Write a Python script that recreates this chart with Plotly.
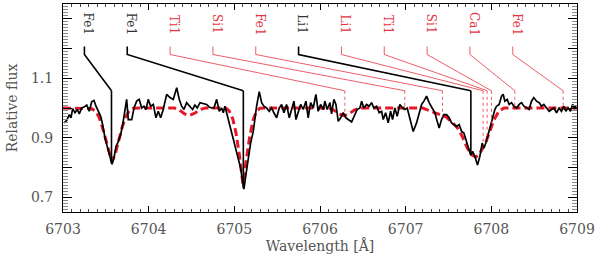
import plotly.graph_objects as go

# Observed spectrum (wavelength in Angstrom, relative flux)
obs_wl = [6703.012, 6703.043, 6703.074, 6703.093, 6703.113, 6703.140, 6703.167, 6703.190, 6703.218, 6703.245,
          6703.277, 6703.307, 6703.335, 6703.362, 6703.385, 6703.412, 6703.440, 6703.463, 6703.490, 6703.517,
          6703.548, 6703.572, 6703.595, 6703.618, 6703.645, 6703.673, 6703.697, 6703.723, 6703.743, 6703.762,
          6703.802, 6703.829, 6703.860, 6703.890, 6703.918, 6703.945, 6703.969, 6703.995, 6704.023, 6704.054,
          6704.085, 6704.112, 6704.140, 6704.170, 6704.210, 6704.249, 6704.287, 6704.327, 6704.357, 6704.385,
          6704.412, 6704.443, 6704.482, 6704.513, 6704.540, 6704.567, 6704.599, 6704.637, 6704.677, 6704.707,
          6704.735, 6704.762, 6704.794, 6704.824, 6704.852, 6704.871, 6704.890, 6704.910, 6704.941, 6704.969,
          6705.007, 6705.046, 6705.074, 6705.097, 6705.112, 6705.135, 6705.162, 6705.190, 6705.221, 6705.240,
          6705.260, 6705.291, 6705.319, 6705.345, 6705.377, 6705.407, 6705.435, 6705.462, 6705.494, 6705.524,
          6705.552, 6705.579, 6705.610, 6705.641, 6705.669, 6705.696, 6705.719, 6705.746, 6705.774, 6705.804,
          6705.836, 6705.862, 6705.890, 6705.921, 6705.952, 6705.979, 6706.007, 6706.038, 6706.057, 6706.084,
          6706.116, 6706.135, 6706.162, 6706.186, 6706.213, 6706.241, 6706.271, 6706.302, 6706.329, 6706.369,
          6706.407, 6706.434, 6706.466, 6706.486, 6706.512, 6706.544, 6706.574, 6706.602, 6706.629, 6706.661,
          6706.691, 6706.719, 6706.738, 6706.766, 6706.796, 6706.824, 6706.847, 6706.874, 6706.901, 6706.932,
          6706.964, 6706.991, 6707.018, 6707.049, 6707.088, 6707.127, 6707.158, 6707.186, 6707.213, 6707.244,
          6707.274, 6707.314, 6707.341, 6707.368, 6707.391, 6707.419, 6707.446, 6707.477, 6707.508, 6707.536,
          6707.563, 6707.594, 6707.625, 6707.653, 6707.680, 6707.703, 6707.730, 6707.758, 6707.781, 6707.808,
          6707.839, 6707.866, 6707.893, 6707.913, 6707.936, 6707.963, 6707.991, 6708.014, 6708.041, 6708.061,
          6708.091, 6708.119, 6708.138, 6708.158, 6708.185, 6708.208, 6708.236, 6708.263, 6708.294, 6708.325,
          6708.353, 6708.380, 6708.411, 6708.441, 6708.469, 6708.496, 6708.528, 6708.558, 6708.586, 6708.613,
          6708.645, 6708.675, 6708.703, 6708.730, 6708.761, 6708.791, 6708.819, 6708.846, 6708.869, 6708.896,
          6708.924, 6708.948, 6708.975, 6708.987]
obs_flux = [0.950, 0.958, 0.978, 0.967, 0.998, 0.984, 0.995, 0.980, 1.000, 1.003,
            1.010, 0.989, 1.021, 1.025, 1.006, 0.989, 0.972, 0.944, 0.899, 0.870,
            0.837, 0.811, 0.831, 0.870, 0.887, 0.910, 0.944, 0.995, 1.029, 0.961,
            0.961, 1.000, 1.023, 1.029, 1.000, 1.006, 0.995, 1.029, 1.006, 1.012,
            0.967, 0.989, 0.967, 0.995, 1.046, 1.035, 1.029, 1.068, 1.029, 1.006,
            0.995, 1.018, 1.006, 0.995, 1.010, 1.000, 1.018, 1.014, 1.012, 1.003,
            1.000, 1.000, 1.029, 0.989, 1.000, 0.984, 1.006, 0.984, 0.950, 0.921,
            0.876, 0.837, 0.797, 0.752, 0.727, 0.775, 0.837, 0.882, 0.921, 0.967,
            1.006, 1.055, 1.018, 1.006, 1.000, 0.989, 1.000, 0.984, 0.967, 1.000,
            1.012, 0.984, 1.012, 0.967, 1.000, 1.023, 0.961, 0.989, 1.012, 0.995,
            1.023, 0.967, 1.018, 1.000, 1.046, 0.989, 1.012, 0.995, 1.023, 0.995,
            1.018, 0.980, 1.029, 1.012, 0.955, 0.967, 0.984, 0.967, 0.961, 0.953,
            0.978, 0.995, 1.000, 1.023, 1.000, 1.012, 1.006, 1.018, 1.000, 1.006,
            0.984, 0.989, 0.961, 0.984, 0.950, 0.989, 0.961, 1.000, 0.972, 1.012,
            1.000, 0.995, 1.000, 0.967, 0.921, 0.950, 0.984, 1.012, 1.023, 1.040,
            1.018, 0.995, 0.984, 0.955, 0.933, 0.961, 0.978, 0.978, 0.967, 0.950,
            0.944, 0.938, 0.944, 0.921, 0.916, 0.893, 0.870, 0.842, 0.854, 0.837,
            0.808, 0.837, 0.882, 0.865, 0.882, 0.910, 0.944, 0.972, 0.995, 1.006,
            1.012, 1.040, 1.046, 1.023, 1.029, 1.012, 1.018, 1.006, 1.000, 1.012,
            1.018, 1.006, 1.000, 0.995, 1.023, 1.035, 1.023, 1.018, 1.006, 1.012,
            1.000, 0.989, 0.995, 1.000, 0.984, 1.000, 0.989, 1.006, 0.989, 1.000,
            0.989, 1.012, 1.000, 1.006]

# Synthetic model spectrum
model_wl = [6703.00, 6703.20, 6703.33, 6703.38, 6703.42, 6703.46, 6703.50, 6703.54, 6703.57, 6703.61,
            6703.65, 6703.69, 6703.73, 6703.77, 6703.82, 6703.90, 6704.30, 6704.36, 6704.42, 6704.48,
            6704.54, 6704.60, 6704.66, 6704.90, 6704.94, 6704.98, 6705.02, 6705.06, 6705.10, 6705.14,
            6705.18, 6705.22, 6705.26, 6705.30, 6705.40, 6706.10, 6706.16, 6706.22, 6706.28, 6706.34,
            6706.40, 6706.46, 6707.20, 6707.26, 6707.33, 6707.40, 6707.47, 6707.53, 6707.60, 6707.66,
            6707.72, 6707.77, 6707.82, 6707.87, 6707.93, 6707.98, 6708.03, 6708.09, 6708.15, 6709.00]
model_flux = [1.000, 1.000, 0.998, 0.990, 0.970, 0.935, 0.890, 0.845, 0.820, 0.845,
              0.895, 0.935, 0.968, 0.990, 0.999, 1.000, 1.000, 0.993, 0.980, 0.975,
              0.983, 0.995, 1.000, 1.000, 0.990, 0.965, 0.915, 0.840, 0.745, 0.830,
              0.905, 0.960, 0.990, 0.999, 1.000, 1.000, 0.993, 0.980, 0.974, 0.980,
              0.993, 1.000, 1.000, 0.993, 0.985, 0.978, 0.970, 0.955, 0.935, 0.905,
              0.865, 0.842, 0.835, 0.850, 0.880, 0.920, 0.960, 0.990, 1.000, 1.000]

# Line identifications
line_names = ["Fe1", "Fe1", "Ti1", "Si1", "Fe1", "Li1", "Li1", "Ti1", "Si1", "Ca1", "Fe1"]
line_wl = [6703.566, 6705.105, 6706.290, 6706.990, 6707.430, 6707.761, 6707.904, 6707.951,
           6708.002, 6708.274, 6708.838]
line_bottom = [0.813, 0.730, 0.978, 0.995, 0.968, 0.842, 0.870, 0.893, 0.921, 0.995, 1.000]
label_wl = [6703.25, 6703.75, 6704.25, 6704.75, 6705.25, 6705.75, 6706.25, 6706.75,
            6707.25, 6707.75, 6708.25]
line_observed = [True, True, False, False, False, True, False, False, False, False, False]

# Label geometry levels (flux units)
label_text_y = 1.283
label_tick_top = 1.207
label_tick_bottom = 1.180
label_elbow = 1.058

x_ticks = [6703, 6704, 6705, 6706, 6707, 6708, 6709]
y_ticks = [0.7, 0.8, 0.9, 1.0, 1.1, 1.2, 1.3]
y_ticktext = ["0.7", "", "0.9", "", "1.1", "", ""]

RED = "rgb(228,24,40)"
RED_TXT = "rgb(226,52,64)"
BLACK = "black"
FONT = "DejaVu Serif"

fig = go.Figure()

fig.add_trace(go.Scatter(x=model_wl, y=model_flux, mode="lines",
                         line=dict(color=RED, width=3, dash="8px,4px"), hoverinfo="skip"))
fig.add_trace(go.Scatter(x=obs_wl, y=obs_flux, mode="lines",
                         line=dict(color=BLACK, width=1.7), hoverinfo="skip"))

for name, lw, lb, lx, obs in zip(line_names, line_wl, line_bottom, label_wl, line_observed):
    col = BLACK if obs else RED
    width = 1.6 if obs else 0.7
    fig.add_trace(go.Scatter(x=[lx, lx, lw], y=[label_tick_top, label_tick_bottom, label_elbow],
                             mode="lines", line=dict(color=col, width=width), hoverinfo="skip"))
    fig.add_trace(go.Scatter(x=[lw, lw], y=[label_elbow, lb], mode="lines",
                             line=dict(color=col, width=width, dash="solid" if obs else "dot"),
                             hoverinfo="skip"))
    fig.add_annotation(x=lx, y=label_text_y, text=name, textangle=90, showarrow=False,
                       xanchor="center", yanchor="middle", xshift=4,
                       font=dict(family=FONT, size=12, color="#333" if obs else RED_TXT))

axis_common = dict(showline=True, linecolor="black", linewidth=1, mirror="ticks",
                   ticks="inside", tickcolor="black", showgrid=False, zeroline=False,
                   tickfont=dict(family=FONT, size=14, color="#555"))

fig.update_xaxes(range=[6703, 6709], tickmode="array", tickvals=x_ticks,
                 ticklen=6, tickwidth=1, ticklabelstandoff=4,
                 minor=dict(dtick=0.1, tick0=6703, ticklen=3, tickcolor="#444", ticks="inside"),
                 title=dict(text="Wavelength [Å]", standoff=3,
                            font=dict(family=FONT, size=14, color="#555")),
                 **axis_common)
fig.update_yaxes(range=[0.65, 1.35], tickmode="array", tickvals=y_ticks, ticktext=y_ticktext,
                 ticklen=9, tickwidth=1, ticklabelstandoff=6,
                 minor=dict(dtick=0.01, tick0=0.7, ticklen=5, tickcolor="#888", ticks="inside"),
                 title=dict(text="Relative flux", standoff=10,
                            font=dict(family=FONT, size=14, color="#555")),
                 **axis_common)

fig.update_layout(width=600, height=257, margin=dict(l=63, r=23, t=4, b=45, autoexpand=False),
                  plot_bgcolor="white", paper_bgcolor="white", showlegend=False)

fig.write_html("out.html", config={"displayModeBar": False},
               post_script="document.body.style.margin='0';")
